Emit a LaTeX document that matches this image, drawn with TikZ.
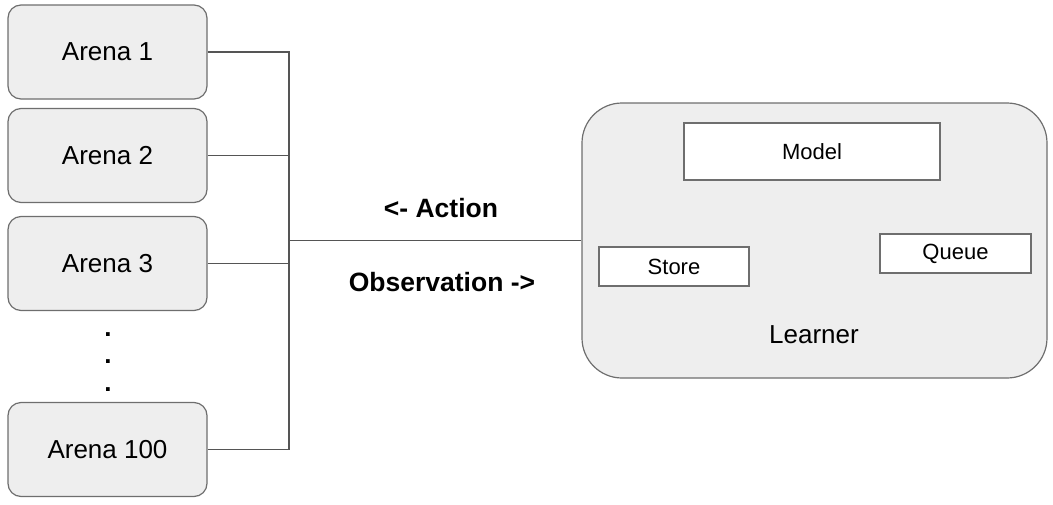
\documentclass[tikz,border=0pt]{standalone}
\usepackage{fontspec}
\setmainfont{Liberation Sans}
\usetikzlibrary{calc}
\definecolor{boxfill}{HTML}{EEEEEE}
\definecolor{boxline}{HTML}{6E6E6E}
\definecolor{wireline}{HTML}{555555}
\tikzset{
  arenabox/.style={draw=boxline, fill=boxfill, line width=1.2pt, rounded corners=13pt,
    minimum width=199pt, minimum height=94pt, font=\fontsize{26}{30}\selectfont},
  learnerbox/.style={draw=boxline, fill=boxfill, line width=1.2pt, rounded corners=40pt,
    minimum width=465pt, minimum height=275pt},
  partbox/.style={draw=boxline, fill=white, line width=1.2pt, font=\fontsize{22}{26}\selectfont},
  wire/.style={draw=wireline, line width=1.3pt},
  msg/.style={font=\fontsize{26.5}{30}\selectfont\bfseries},
  dotmark/.style={anchor=base, font=\fontsize{26}{30}\selectfont\bfseries}
}
\begin{document}
\begin{tikzpicture}[x=1pt, y=-1pt]
        \useasboundingbox (0,0) rectangle (1053,504);
        % arenas
        \node[arenabox] (A1) at (107.5,52) {Arena 1};
        \node[arenabox] (A2) at (107.5,155.5) {Arena 2};
        \node[arenabox] (A3) at (107.5,263.5) {Arena 3};
        \node[arenabox] (A100) at (107.5,449.5) {Arena 100};
        \node[dotmark] (d1) at (108,336) {.};
        \node[dotmark] (d2) at (108,363) {.};
        \node[dotmark] (d3) at (108,391) {.};

        % learner
        \node[learnerbox] (L) at (814.5,240.5) {};
        \node[partbox, minimum width=256pt, minimum height=57pt] (M) at (812,151.5) {Model};
        \node[partbox, minimum width=150pt, minimum height=39pt] (S) at (674,266.5) {Store};
        \node[partbox, minimum width=151pt, minimum height=39pt] (Q) at (955.5,253.5) {Queue};
        \node[font=\fontsize{26}{30}\selectfont] (Lt) at (814,335) {Learner};

        % wiring
        \coordinate (bus) at (289,240.5);
        \draw[wire] (A1.east) -| (bus);
        \draw[wire] (A2.east) -| (bus);
        \draw[wire] (A3.east) -| (bus);
        \draw[wire] (A100.east) -| (bus);
        \draw[wire] (bus) -- (L.west);

        \node[msg] (act) at (441,208) {<- Action};
        \node[msg] (obs) at (442,282) {Observation ->};
\end{tikzpicture}
\end{document}
